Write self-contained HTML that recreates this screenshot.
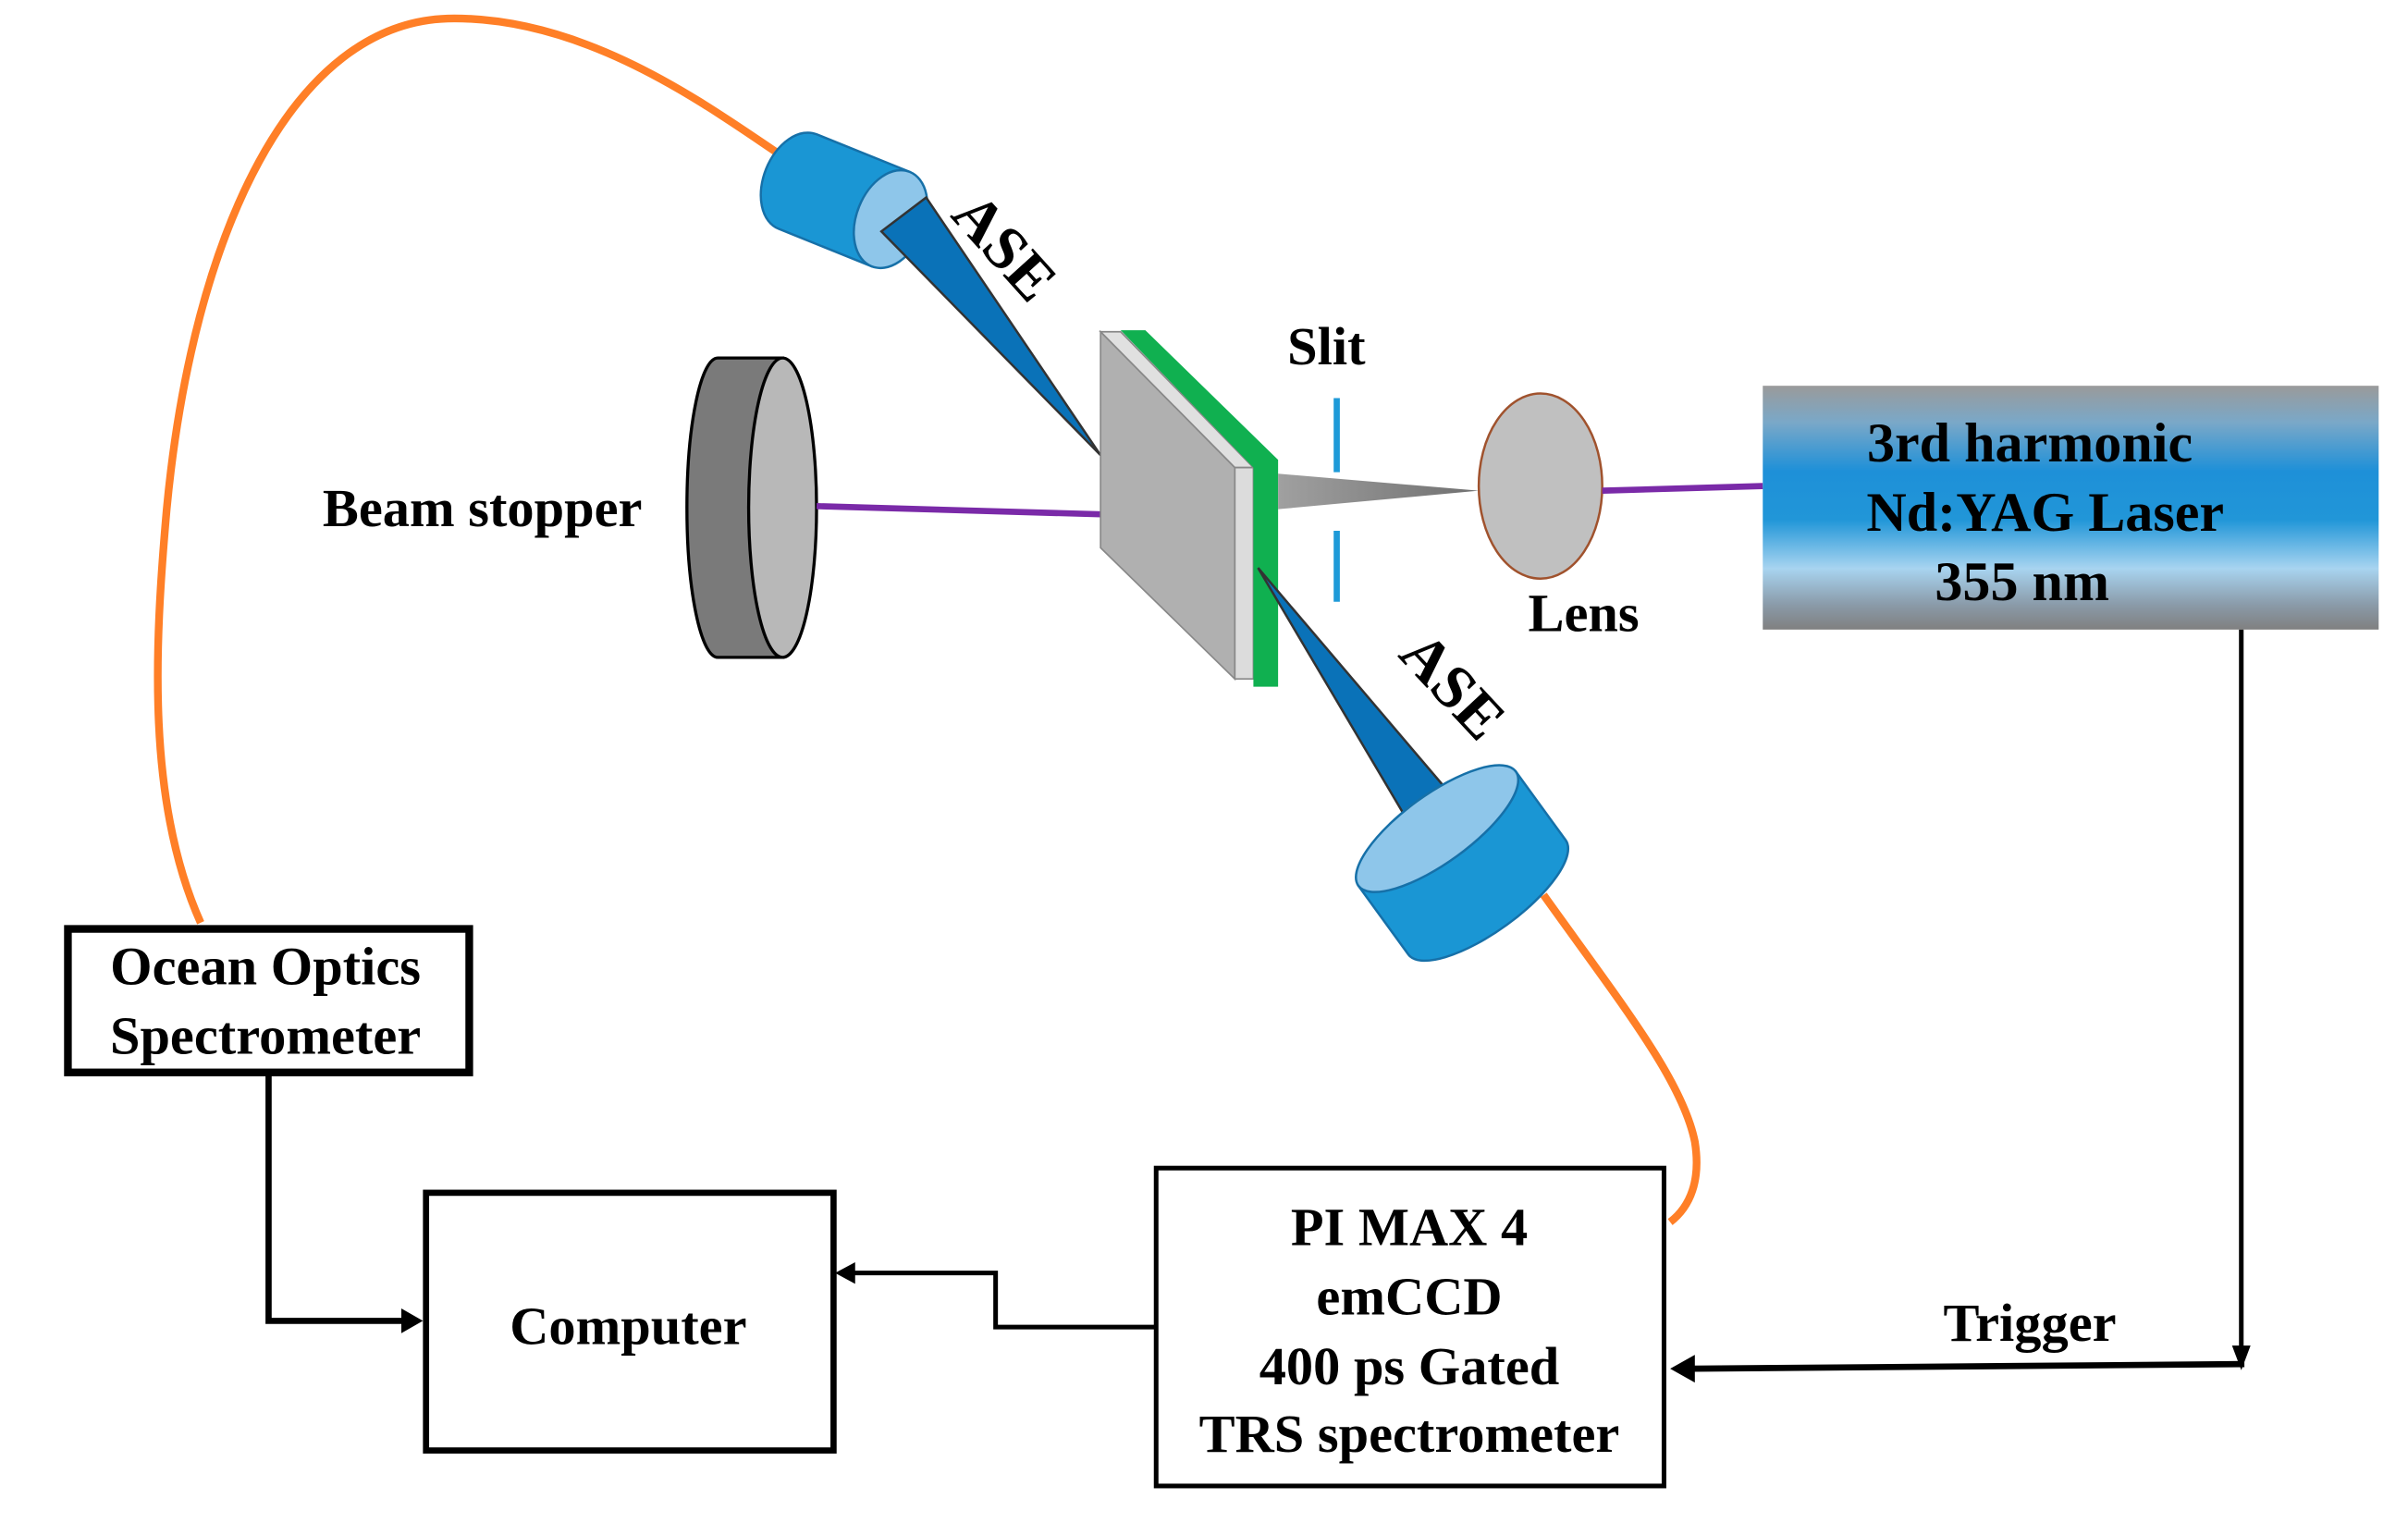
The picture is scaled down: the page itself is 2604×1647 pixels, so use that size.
<!DOCTYPE html>
<html><head><meta charset="utf-8"><style>html,body{margin:0;padding:0;background:#fff}svg{display:block}</style></head>
<body>
<svg width="2604" height="1647" viewBox="0 0 1560 987" preserveAspectRatio="none" xmlns="http://www.w3.org/2000/svg" font-family="'Liberation Serif', serif" font-weight="bold">
<defs>
<linearGradient id="lg" x1="0" y1="0" x2="0" y2="1">
<stop offset="0" stop-color="#9a9a9a"/><stop offset="0.15" stop-color="#7aa8c8"/><stop offset="0.35" stop-color="#1e90d8"/><stop offset="0.55" stop-color="#2196d8"/><stop offset="0.75" stop-color="#a8d4f0"/><stop offset="0.9" stop-color="#8a9aa8"/><stop offset="1" stop-color="#808080"/>
</linearGradient>
<linearGradient id="cone" x1="0" y1="0" x2="1" y2="0"><stop offset="0" stop-color="#a0a0a0"/><stop offset="1" stop-color="#707070"/></linearGradient>
</defs>
<!-- fibers -->
<path d="M130,598 C95,520 100,420 108,330 C125,150 190,15 290,12 C380,10 460,70 505,100" fill="none" stroke="#ff7f27" stroke-width="5"/>
<path d="M1000,580 C1050,650 1090,700 1098,740 C1102,765 1095,782 1082,792" fill="none" stroke="#ff7f27" stroke-width="5"/>
<!-- top cylinder -->
<g transform="translate(577,142) rotate(22)">
<path d="M0,-33 L-65,-33 A22,33 0 0 0 -65,33 L0,33 Z" fill="#1a96d4" stroke="#1670a8" stroke-width="1.5"/>
<ellipse cx="0" cy="0" rx="22" ry="33" fill="#8ec6ea" stroke="#1670a8" stroke-width="1.5"/>
</g>
<!-- top ASE beam -->
<polygon points="571,150 600,128 713,295" fill="#0a72b8" stroke="#333" stroke-width="1.5"/>
<text transform="translate(615,140) rotate(48)" font-size="40">ASE</text>
<!-- beam stopper -->
<path d="M465,232 L507,232 L507,426 L465,426 A20,97 0 0 1 465,232 Z" fill="#7a7a7a" stroke="#000" stroke-width="2"/>
<ellipse cx="507" cy="329" rx="22" ry="97" fill="#b8b8b8" stroke="#000" stroke-width="2"/>
<line x1="529" y1="328" x2="737" y2="334" stroke="#7a2aa8" stroke-width="4"/>
<text x="209" y="341" font-size="35">Beam stopper</text>
<!-- sample -->
<polygon points="713,215 800,303 800,440 713,355" fill="#b0b0b0" stroke="#888" stroke-width="1"/>
<polygon points="713,215 726,215 812,303 800,303" fill="#e0e0e0" stroke="#888" stroke-width="1"/>
<polygon points="800,303 812,303 812,440 800,440" fill="#dcdcdc" stroke="#888" stroke-width="1"/>
<polygon points="726,214 742,214 828,298 828,445 812,445 812,303" fill="#10b050"/>
<!-- gray cone -->
<polygon points="828,307 958,318 828,330" fill="url(#cone)"/>
<!-- slit -->
<line x1="866" y1="258" x2="866" y2="306" stroke="#1e9ad8" stroke-width="4"/>
<line x1="866" y1="344" x2="866" y2="390" stroke="#1e9ad8" stroke-width="4"/>
<text x="834" y="236" font-size="35">Slit</text>
<!-- lens -->
<ellipse cx="998" cy="315" rx="40" ry="60" fill="#c0c0c0" stroke="#a0522d" stroke-width="1.5"/>
<line x1="1038" y1="318" x2="1142" y2="315" stroke="#7a2aa8" stroke-width="4"/>
<text x="990" y="409" font-size="35">Lens</text>
<!-- laser -->
<rect x="1142" y="250" width="399" height="158" fill="url(#lg)"/>
<text x="1315" y="299" font-size="36" text-anchor="middle">3rd harmonic</text>
<text x="1325" y="344" font-size="36" text-anchor="middle">Nd:YAG Laser</text>
<text x="1310" y="389" font-size="36" text-anchor="middle">355 nm</text>
<!-- bottom ASE beam -->
<polygon points="815,368 912,532 940,515" fill="#0a72b8" stroke="#333" stroke-width="1.5"/>
<text transform="translate(905,425) rotate(47)" font-size="40">ASE</text>
<!-- bottom cylinder -->
<g transform="translate(931,537) rotate(-36)">
<path d="M-63,0 L-63,55 A63,22 0 0 0 63,55 L63,0 Z" fill="#1a96d4" stroke="#1670a8" stroke-width="1.5"/>
<ellipse cx="0" cy="0" rx="63" ry="22" fill="#8ec6ea" stroke="#1670a8" stroke-width="1.5"/>
</g>
<!-- boxes -->
<rect x="44" y="602" width="260" height="93" fill="#fff" stroke="#000" stroke-width="5"/>
<text x="172" y="638" font-size="35" text-anchor="middle">Ocean Optics</text>
<text x="172" y="683" font-size="35" text-anchor="middle">Spectrometer</text>
<rect x="276" y="773" width="264" height="167" fill="#fff" stroke="#000" stroke-width="4"/>
<text x="407" y="871" font-size="35" text-anchor="middle">Computer</text>
<rect x="749" y="757" width="329" height="206" fill="#fff" stroke="#000" stroke-width="3"/>
<text x="913" y="807" font-size="35" text-anchor="middle">PI MAX 4</text>
<text x="913" y="852" font-size="35" text-anchor="middle">emCCD</text>
<text x="913" y="897" font-size="35" text-anchor="middle">400 ps Gated</text>
<text x="913" y="941" font-size="35" text-anchor="middle">TRS spectrometer</text>
<!-- connectors -->
<polyline points="174,697 174,856 262,856" fill="none" stroke="#000" stroke-width="4"/>
<polygon points="260,848 274,856 260,864" fill="#000"/>
<polyline points="749,860 645,860 645,825 552,825" fill="none" stroke="#000" stroke-width="3"/>
<polygon points="554,818 541,825 554,832" fill="#000"/>
<line x1="1452" y1="408" x2="1452" y2="876" stroke="#000" stroke-width="3"/>
<polygon points="1446,872 1452,888 1458,872" fill="#000"/>
<line x1="1454" y1="884" x2="1096" y2="887" stroke="#000" stroke-width="4"/>
<polygon points="1098,878 1082,887 1098,896" fill="#000"/>
<text x="1315" y="869" font-size="35" text-anchor="middle">Trigger</text>
</svg>
</body></html>
